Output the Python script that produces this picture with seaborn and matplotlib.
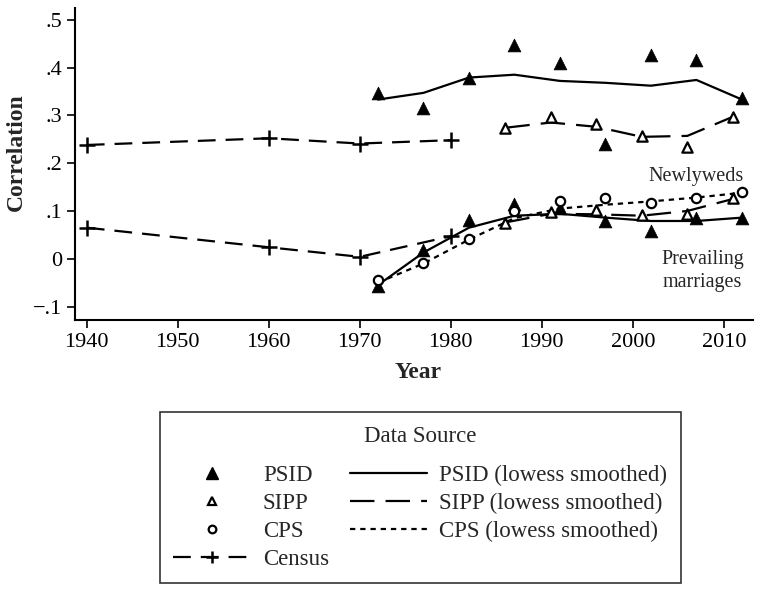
import numpy as np
import pandas as pd
import seaborn as sns
import matplotlib.pyplot as plt
from matplotlib.lines import Line2D

# PSID (filled triangles)
psid_years = [1972, 1977, 1982, 1987, 1992, 1997, 2002, 2007, 2012]
psid_new = [0.347, 0.316, 0.379, 0.448, 0.410, 0.240, 0.427, 0.416, 0.337]
psid_new_smooth = [0.333, 0.347, 0.379, 0.385, 0.372, 0.368, 0.362, 0.374, 0.333]
psid_prev = [-0.058, 0.019, 0.082, 0.115, 0.107, 0.079, 0.059, 0.086, 0.086]
psid_prev_smooth = [-0.055, 0.013, 0.065, 0.090, 0.094, 0.086, 0.079, 0.079, 0.086]

# SIPP (hollow triangles)
sipp_years = [1986, 1991, 1996, 2001, 2006, 2011]
sipp_new = [0.274, 0.297, 0.282, 0.257, 0.234, 0.297]
sipp_new_smooth = [0.274, 0.285, 0.276, 0.255, 0.257, 0.297]
sipp_prev = [0.075, 0.098, 0.103, 0.092, 0.094, 0.128]
sipp_prev_smooth = [0.076, 0.094, 0.093, 0.090, 0.100, 0.125]

# CPS (hollow circles)
cps_years = [1972, 1977, 1982, 1987, 1992, 1997, 2002, 2007, 2012]
cps_prev = [-0.045, -0.008, 0.042, 0.100, 0.121, 0.128, 0.117, 0.128, 0.140]
cps_prev_smooth = [-0.050, -0.010, 0.040, 0.085, 0.105, 0.113, 0.120, 0.128, 0.138]

# Census
census_years = [1940, 1960, 1970, 1980]
census_new = [0.238, 0.252, 0.241, 0.248]
census_prev = [0.065, 0.024, 0.004, 0.047]

sns.set_theme(style="ticks")
plt.rcParams['font.family'] = ['Liberation Serif', 'DejaVu Serif']

fig = plt.figure(figsize=(7.81, 5.98), dpi=100)
ax = fig.add_axes([0.096, 0.465, 0.868, 0.522])

k = "black"
solid = "-"
long_dash = (0, (11, 5))
short_dash = (0, (2.4, 2.2))
census_dash = (0, (8, 4.5))

# smoothed lines
for yr, vals, ls in [(psid_years, psid_new_smooth, solid),
                     (psid_years, psid_prev_smooth, solid),
                     (sipp_years, sipp_new_smooth, long_dash),
                     (sipp_years, sipp_prev_smooth, long_dash),
                     (cps_years, cps_prev_smooth, short_dash)]:
    sns.lineplot(x=yr, y=vals, ax=ax, color=k, linewidth=1.6, linestyle=ls)

# census
for vals in [census_new, census_prev]:
    sns.lineplot(x=census_years, y=vals, ax=ax, color=k, linewidth=1.6,
                 linestyle=census_dash, marker="+", markersize=11,
                 markeredgewidth=1.8, markeredgecolor=k)

# points
for vals in [psid_new, psid_prev]:
    sns.scatterplot(x=psid_years, y=vals, ax=ax, marker="^", s=85,
                    color=k, edgecolor=k, linewidth=0.5, zorder=3)
for vals in [sipp_new, sipp_prev]:
    sns.scatterplot(x=sipp_years, y=vals, ax=ax, marker="^", s=55,
                    facecolor="white", edgecolor=k, linewidth=1.6, zorder=3)
sns.scatterplot(x=cps_years, y=cps_prev, ax=ax, marker="o", s=45,
                facecolor="white", edgecolor=k, linewidth=1.6, zorder=3)

ax.set_xlim(1938.7, 2013.2)
ax.set_ylim(-0.128, 0.525)
ax.set_xticks([1940, 1950, 1960, 1970, 1980, 1990, 2000, 2010])
yt = [-0.1, 0, 0.1, 0.2, 0.3, 0.4, 0.5]
ax.set_yticks(yt)
ax.set_yticklabels(["\u2212.1", "0", ".1", ".2", ".3", ".4", ".5"])
ax.tick_params(axis="both", labelsize=16, length=6, width=1.2, color=k,
               labelcolor=k)
for sp in ["left", "bottom"]:
    ax.spines[sp].set_linewidth(1.5)
    ax.spines[sp].set_color(k)
sns.despine(ax=ax)
ax.set_xlabel("Year", fontsize=17, fontweight="bold")
ax.set_ylabel("Correlation", fontsize=17, fontweight="bold")
ax.xaxis.set_label_coords(0.506, -0.135)
ax.yaxis.set_label_coords(-0.071, 0.538)

ax.text(2012.2, 0.172, "Newlyweds", fontsize=14.5, ha="right", va="center")
ax.text(2012.2, -0.025, "Prevailing\nmarriages", fontsize=14.5, ha="right",
        va="center", multialignment="center", linespacing=1.3)

handles = [
    Line2D([], [], color=k, marker="^", linestyle="none", markersize=8),
    Line2D([], [], color=k, marker="^", linestyle="none", markersize=6,
           markerfacecolor="white", markeredgewidth=1.6),
    Line2D([], [], color=k, marker="o", linestyle="none", markersize=5.5,
           markerfacecolor="white", markeredgewidth=1.6),
    Line2D([], [], color=k, linestyle=census_dash, linewidth=1.6, marker="+",
           markersize=9, markeredgewidth=1.8),
    Line2D([], [], color=k, linestyle=solid, linewidth=1.6),
    Line2D([], [], color=k, linestyle=long_dash, linewidth=1.6),
    Line2D([], [], color=k, linestyle=short_dash, linewidth=1.6),
]
labels = ["PSID", "SIPP", "CPS", "Census",
          "PSID (lowess smoothed)", "SIPP (lowess smoothed)",
          "CPS (lowess smoothed)"]
leg = fig.legend(handles, labels, ncol=2, loc="upper center",
                 bbox_to_anchor=(0.538, 0.311), fontsize=16.5,
                 title="Data Source", title_fontsize=16.5, frameon=True,
                 fancybox=False, edgecolor=k, handlelength=3.4,
                 handletextpad=0.5, columnspacing=0.9, labelspacing=0.3,
                 borderpad=0.6, borderaxespad=0)
leg.get_frame().set_linewidth(1.2)
# extra space between the title and the entries
leg._legend_box.sep = 13

fig.savefig("out.png", dpi=100)
